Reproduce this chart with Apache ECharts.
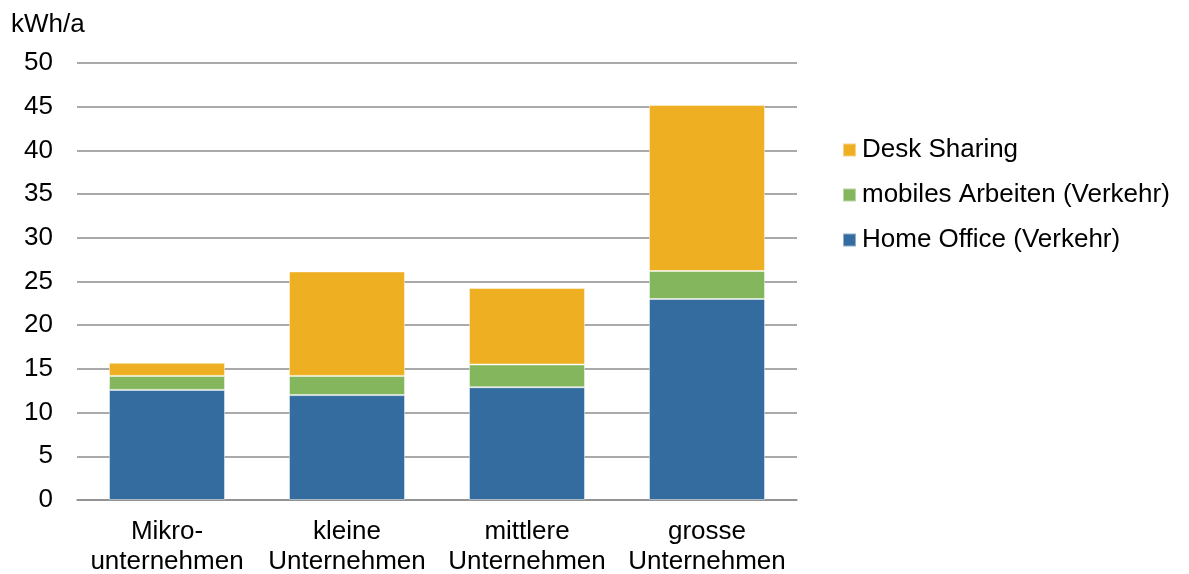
<!DOCTYPE html>
<html>
<head>
<meta charset="utf-8">
<script src="https://cdn.jsdelivr.net/npm/echarts@6/dist/echarts.min.js"></script>
<style>
  html, body { margin: 0; padding: 0; background: #fff; }
  #chart { width: 1189px; height: 574px; }
</style>
</head>
<body>
<div id="chart"></div>
<script>
// Company size categories (two-line labels)
const categories = [
  'Mikro-\nunternehmen',
  'kleine\nUnternehmen',
  'mittlere\nUnternehmen',
  'grosse\nUnternehmen'
];

// Annual energy per stack segment, kWh/a
const homeOffice = [12.6, 12.0, 12.9, 23.0];
const mobilesArbeiten = [1.6, 2.2, 2.6, 3.2];
const deskSharing = [1.5, 11.95, 8.75, 19.0];

const yTicks = { min: 0, max: 50, interval: 5 };

const fontFamily = '"Liberation Sans", Arial, sans-serif';
const segBorder = { borderColor: 'rgba(255,255,255,0.45)', borderWidth: 1 };

const chart = echarts.init(document.getElementById('chart'), null, { renderer: 'canvas' });

chart.setOption({
  animation: false,
  backgroundColor: '#ffffff',
  title: {
    text: 'kWh/a',
    left: 6,
    top: 7,
    textStyle: { fontFamily, fontSize: 26, fontWeight: 'normal', color: '#000' }
  },
  grid: { left: 77, right: 392, top: 63, bottom: 74, outerBoundsMode: 'none' },
  legend: {
    orient: 'vertical',
    left: 837,
    top: 130,
    itemWidth: 13,
    itemHeight: 13,
    itemGap: 15,
    icon: 'rect',
    data: ['Desk Sharing', 'mobiles Arbeiten (Verkehr)', 'Home Office (Verkehr)'],
    textStyle: { fontFamily, fontSize: 26, color: '#000', lineHeight: 30, padding: [0, 0, 0, 1] }
  },
  xAxis: {
    type: 'category',
    data: categories,
    axisLine: { show: true, lineStyle: { color: '#8c8c8c', width: 1.5 } },
    axisTick: { show: false },
    axisLabel: { interval: 0, fontFamily, fontSize: 26, color: '#000', lineHeight: 30, margin: 17 }
  },
  yAxis: {
    type: 'value',
    min: yTicks.min,
    max: yTicks.max,
    interval: yTicks.interval,
    axisLine: { show: false },
    axisTick: { show: false },
    axisLabel: { fontFamily, fontSize: 26, color: '#000', margin: 24 },
    splitLine: { lineStyle: { color: '#8c8c8c', width: 1.5 } }
  },
  series: [
    {
      name: 'Home Office (Verkehr)',
      type: 'bar',
      stack: 'total',
      barWidth: 116,
      data: homeOffice,
      itemStyle: Object.assign({ color: '#346c9f' }, segBorder)
    },
    {
      name: 'mobiles Arbeiten (Verkehr)',
      type: 'bar',
      stack: 'total',
      data: mobilesArbeiten,
      itemStyle: Object.assign({ color: '#84b65d' }, segBorder)
    },
    {
      name: 'Desk Sharing',
      type: 'bar',
      stack: 'total',
      data: deskSharing,
      itemStyle: Object.assign({ color: '#efaf22' }, segBorder)
    }
  ]
});
</script>
</body>
</html>
